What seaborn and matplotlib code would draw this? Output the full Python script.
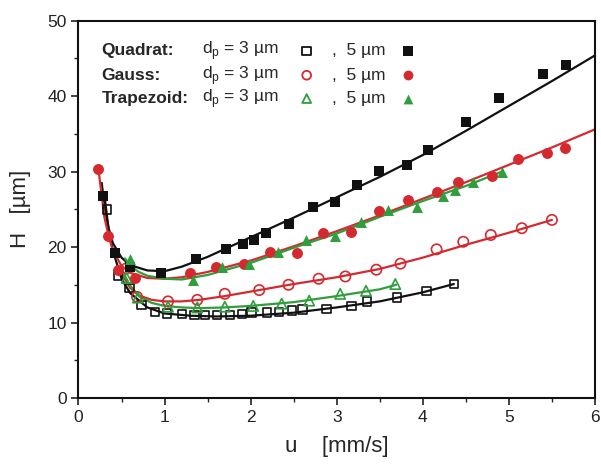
import matplotlib
matplotlib.use("Agg")
import matplotlib.pyplot as plt
import seaborn as sns
from matplotlib.ticker import MultipleLocator

sns.set_style("ticks")
plt.rcParams["font.family"] = ["Liberation Sans", "DejaVu Sans"]
plt.rcParams["mathtext.fontset"] = "custom"
plt.rcParams["mathtext.rm"] = "Liberation Sans"

BLACK = "#111111"
RED = "#d42a2f"
GREEN = "#2f9e3c"

# measured points (u in mm/s, H in um)
quad3_u = [0.33, 0.46, 0.59, 0.73, 0.89, 1.03, 1.20, 1.35, 1.47, 1.61, 1.76, 1.90,
           2.01, 2.19, 2.33, 2.48, 2.60, 2.88, 3.17, 3.35, 3.70, 4.04, 4.36]
quad3_h = [25.0, 16.2, 14.6, 12.3, 11.4, 11.2, 11.1, 11.0, 11.0, 11.0, 11.0, 11.1,
           11.3, 11.3, 11.4, 11.6, 11.7, 11.8, 12.2, 12.8, 13.3, 14.2, 15.1]
quad5_u = [0.29, 0.42, 0.60, 0.96, 1.36, 1.71, 1.91, 2.04, 2.18, 2.44, 2.72, 2.98,
           3.24, 3.49, 3.82, 4.06, 4.50, 4.88, 5.40, 5.66]
quad5_h = [26.7, 19.2, 17.4, 16.6, 18.4, 19.7, 20.4, 20.9, 21.8, 23.0, 25.3, 26.0,
           28.2, 30.1, 30.9, 32.8, 36.6, 39.7, 43.0, 44.1]

gauss3_u = [0.56, 0.68, 1.04, 1.38, 1.70, 2.10, 2.44, 2.79, 3.10, 3.46, 3.74, 4.16,
            4.47, 4.79, 5.15, 5.50]
gauss3_h = [17.2, 13.4, 12.8, 13.0, 13.8, 14.3, 15.0, 15.8, 16.1, 17.0, 17.8, 19.7,
            20.7, 21.6, 22.5, 23.6]
gauss5_u = [0.23, 0.34, 0.46, 0.66, 1.29, 1.60, 1.92, 2.22, 2.54, 2.84, 3.17, 3.49,
            3.83, 4.17, 4.41, 4.80, 5.10, 5.44, 5.65]
gauss5_h = [30.4, 21.5, 17.0, 15.9, 16.6, 17.3, 17.8, 19.3, 19.2, 21.8, 22.0, 24.8,
            26.2, 27.3, 28.6, 29.4, 31.7, 32.4, 33.1]

trap3_u = [0.56, 0.69, 1.04, 1.38, 1.70, 2.03, 2.36, 2.68, 3.04, 3.34, 3.68]
trap3_h = [15.9, 13.3, 12.1, 12.0, 12.1, 12.2, 12.5, 12.9, 13.8, 14.2, 15.1]
trap5_u = [0.60, 1.33, 1.67, 1.98, 2.32, 2.64, 2.98, 3.28, 3.60, 3.93, 4.24, 4.37,
           4.58, 4.92]
trap5_h = [18.4, 15.6, 17.4, 17.8, 19.4, 20.9, 21.4, 23.3, 24.9, 25.3, 26.7, 27.5,
           28.6, 30.0]

# fitted curves
fit_quad3_u = [0.30, 0.35, 0.40, 0.50, 0.60, 0.80, 1.00, 1.30, 1.60, 2.00, 2.50,
               3.00, 3.50, 4.00, 4.36]
fit_quad3_h = [27.0, 22.3, 19.5, 15.8, 13.9, 12.0, 11.2, 10.9, 10.8, 10.9, 11.3,
               12.0, 12.8, 14.0, 15.1]
fit_quad5_u = [0.27, 0.30, 0.35, 0.40, 0.50, 0.60, 0.80, 1.00, 1.20, 1.50, 2.00,
               2.50, 3.00, 3.50, 4.00, 4.50, 5.00, 5.50, 6.00]
fit_quad5_h = [28.5, 25.5, 22.5, 20.5, 18.6, 17.6, 16.9, 16.8, 17.4, 18.7, 21.3,
               23.9, 26.6, 29.3, 32.2, 35.4, 38.7, 42.0, 45.4]
fit_gauss3_u = [0.50, 0.60, 0.70, 0.85, 1.00, 1.20, 1.40, 1.70, 2.00, 2.50, 3.00,
                3.50, 4.00, 4.50, 5.00, 5.50]
fit_gauss3_h = [16.5, 14.6, 13.6, 13.0, 12.8, 12.8, 13.0, 13.5, 14.1, 15.1, 16.0,
                17.1, 18.6, 20.3, 21.9, 23.6]
fit_gauss5_u = [0.23, 0.30, 0.35, 0.40, 0.50, 0.60, 0.80, 1.00, 1.20, 1.50, 2.00,
                2.50, 3.00, 3.50, 4.00, 4.50, 5.00, 5.50, 6.00]
fit_gauss5_h = [30.5, 24.0, 21.5, 19.5, 17.5, 16.6, 15.9, 15.8, 16.0, 16.7, 18.2,
                20.1, 22.1, 24.2, 26.4, 28.6, 30.9, 33.2, 35.6]
fit_trap3_u = [0.50, 0.60, 0.70, 0.85, 1.00, 1.20, 1.40, 1.70, 2.00, 2.50, 3.00,
               3.50, 3.69]
fit_trap3_h = [17.0, 14.9, 13.5, 12.6, 12.2, 12.0, 11.9, 12.0, 12.2, 12.7, 13.5,
               14.4, 15.0]
fit_trap5_u = [0.54, 0.60, 0.70, 0.80, 1.00, 1.20, 1.50, 2.00, 2.50, 3.00, 3.50,
               4.00, 4.50, 4.92]
fit_trap5_h = [18.5, 17.5, 16.7, 16.2, 15.8, 15.7, 16.3, 17.9, 19.9, 21.8, 24.0,
               26.1, 28.1, 30.0]

fig = plt.figure(figsize=(6.01, 4.66), dpi=100)
ax = fig.add_axes([0.1306, 0.146, 0.8594, 0.8096])

fits = [
    (fit_quad3_u, fit_quad3_h, BLACK), (fit_quad5_u, fit_quad5_h, BLACK),
    (fit_gauss3_u, fit_gauss3_h, RED), (fit_gauss5_u, fit_gauss5_h, RED),
    (fit_trap3_u, fit_trap3_h, GREEN), (fit_trap5_u, fit_trap5_h, GREEN),
]
for fu, fh, c in fits:
    sns.lineplot(x=fu, y=fh, color=c, lw=1.6, sort=False, estimator=None, ax=ax)

open_kw = dict(facecolor="none", linewidth=1.2, zorder=3)
sns.scatterplot(x=quad3_u, y=quad3_h, marker="s", s=38, edgecolor=BLACK, ax=ax, **open_kw)
sns.scatterplot(x=gauss3_u, y=gauss3_h, marker="o", s=55, edgecolor=RED, ax=ax, **open_kw)
sns.scatterplot(x=trap3_u, y=trap3_h, marker="^", s=55, edgecolor=GREEN, ax=ax, **open_kw)
sns.scatterplot(x=quad5_u, y=quad5_h, marker="s", s=44, color=BLACK, linewidth=0, zorder=3, ax=ax)
sns.scatterplot(x=gauss5_u, y=gauss5_h, marker="o", s=62, color=RED, linewidth=0, zorder=3, ax=ax)
sns.scatterplot(x=trap5_u, y=trap5_h, marker="^", s=62, color=GREEN, linewidth=0, zorder=3, ax=ax)

# hand-made legend block
rows = [("Quadrat:", "s", BLACK, 0.9198), ("Gauss:", "o", RED, 0.8554),
        ("Trapezoid:", "^", GREEN, 0.7936)]
for name, mk, c, yy in rows:
    ax.text(0.045, yy, name, transform=ax.transAxes, fontsize=12.5,
            fontweight="bold", va="center", ha="left")
    ax.text(0.2385, yy, r"d$_\mathregular{p}$ = 3 µm", transform=ax.transAxes,
            fontsize=12.5, va="center", ha="left")
    ax.scatter([0.4418], [yy], transform=ax.transAxes, marker=mk, s=40,
               facecolor="none", edgecolor=c, linewidth=1.3, clip_on=False)
    ax.text(0.49, yy, ",  5 µm", transform=ax.transAxes, fontsize=12.5,
            va="center", ha="left")
    ax.scatter([0.638], [yy], transform=ax.transAxes, marker=mk, s=50,
               color=c, linewidth=0, clip_on=False)

ax.set_xlim(0, 6)
ax.set_ylim(0, 50)
ax.xaxis.set_major_locator(MultipleLocator(1))
ax.xaxis.set_minor_locator(MultipleLocator(0.5))
ax.yaxis.set_major_locator(MultipleLocator(10))
ax.yaxis.set_minor_locator(MultipleLocator(5))
ax.tick_params(which="major", direction="out", length=5, width=1.2,
               labelsize=12.5, colors="#222222")
ax.tick_params(which="minor", direction="out", length=3, width=1.0)
for sp in ax.spines.values():
    sp.set_linewidth(1.5)
    sp.set_color("#111111")

ax.set_xlabel("u    [mm/s]", fontsize=16, labelpad=8)
ax.set_ylabel("H   [µm]", fontsize=16, labelpad=12)

fig.savefig("out.png", dpi=100)
